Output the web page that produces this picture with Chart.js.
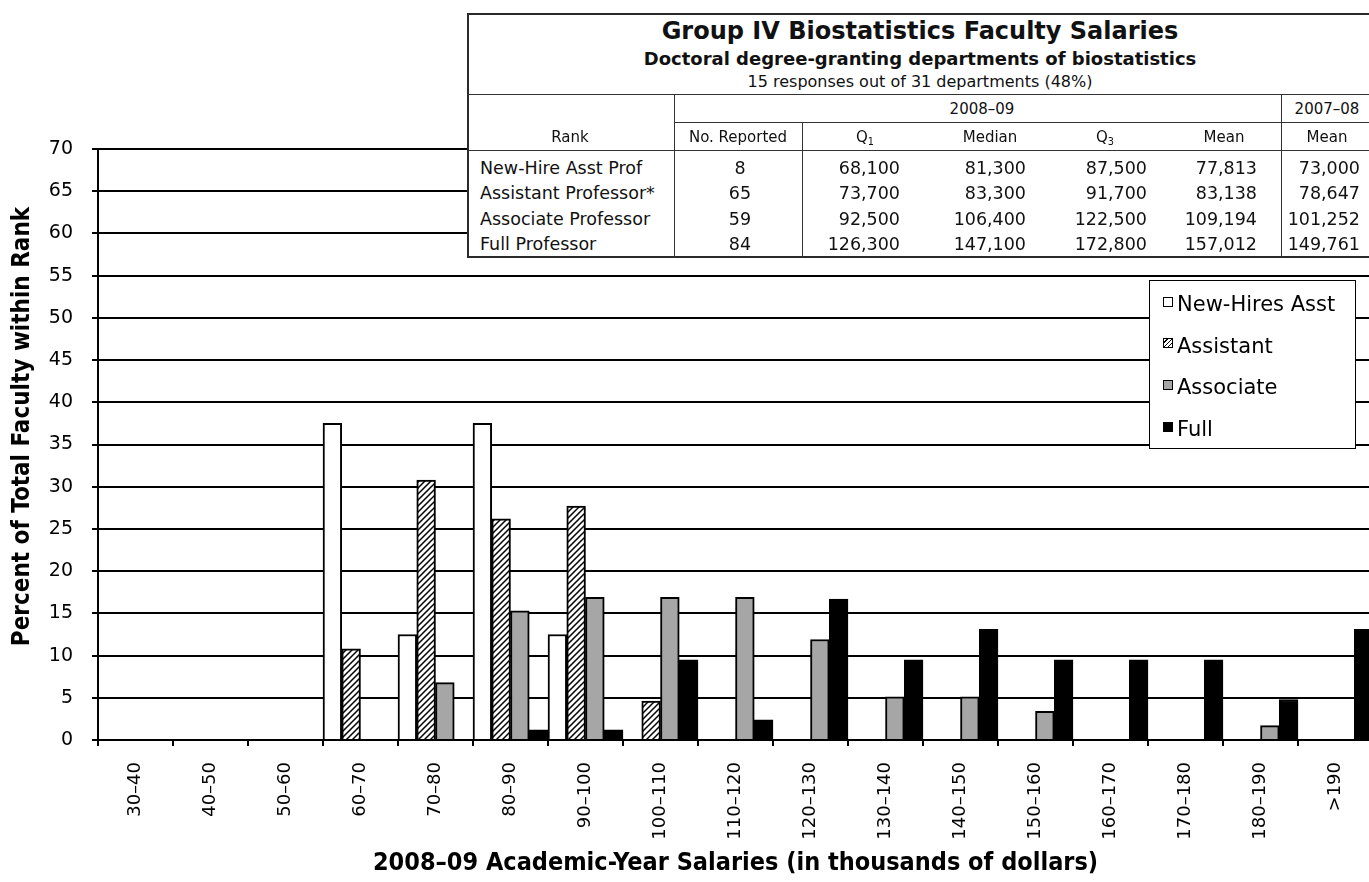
<!DOCTYPE html>
<html>
<head>
<meta charset="utf-8">
<script src="https://cdn.jsdelivr.net/npm/chart.js@4.4.1/dist/chart.umd.min.js"></script>
<style>
html,body{margin:0;padding:0;background:#fff;overflow:hidden;width:1369px;height:882px;}
#wrap{position:relative;width:1380px;height:882px;}
#c{position:absolute;left:0;top:0;}
#tbl{position:absolute;left:0;top:0;width:1380px;height:882px;pointer-events:none;font-family:'DejaVu Sans',sans-serif;color:#111;}
.cell{position:absolute;white-space:nowrap;}
.ln{position:absolute;background:#333;}
#tblbox{position:absolute;left:467px;top:13px;width:906px;height:245px;box-sizing:border-box;border:2px solid #2a2a2a;background:#fff;}
#legend{position:absolute;left:1149px;top:280px;width:207px;height:169px;box-sizing:border-box;border:1.5px solid #000;background:#fff;font-family:'DejaVu Sans',sans-serif;font-size:21px;color:#000;}
.li{position:absolute;left:27px;line-height:21px;height:21px;white-space:nowrap;}
.mk{position:absolute;left:13px;width:10px;height:10px;box-sizing:border-box;border:1.5px solid #000;}
sub{font-size:65%;vertical-align:-3px;line-height:0;}
</style>
</head>
<body>
<div id="wrap">
  <canvas id="c" width="1380" height="882"></canvas>
  <div id="tbl"><div id="tblbox"></div></div>
  <div id="legend"></div>
</div>
<script>
// ---------- Chart data ----------
const salaryBins = ["30–40","40–50","50–60","60–70","70–80","80–90","90–100","100–110","110–120","120–130","130–140","140–150","150–160","160–170","170–180","180–190",">190"];
const newHireAsst = [0,0,0,37.5,12.5,37.5,12.5,0,0,0,0,0,0,0,0,0,0];
const assistant   = [0,0,0,10.8,30.8,26.2,27.7,4.6,0,0,0,0,0,0,0,0,0];
const associate   = [0,0,0,0,6.8,15.3,16.9,16.9,16.9,11.9,5.1,5.1,3.4,0,0,1.7,0];
const full        = [0,0,0,0,0,1.2,1.2,9.5,2.4,16.7,9.5,13.1,9.5,9.5,9.5,4.8,13.1];
const seriesNames = ["New-Hires Asst","Assistant","Associate","Full"];
const yTicksMin = 0, yTicksMax = 70, yTickStep = 5;
const yTitle = "Percent of Total Faculty within Rank";
const xTitle = "2008–09 Academic-Year Salaries (in thousands of dollars)";

// ---------- Table data ----------
const tableTitle = "Group IV Biostatistics Faculty Salaries";
const tableSubtitle = "Doctoral degree-granting departments of biostatistics";
const tableNote = "15 responses out of 31 departments (48%)";
const ranks = ["New-Hire Asst Prof","Assistant Professor*","Associate Professor","Full Professor"];
const numReported = [8,65,59,84];
const q1Values = [68100,73700,92500,126300];
const medianValues = [81300,83300,106400,147100];
const q3Values = [87500,91700,122500,172800];
const meanValues = [77813,83138,109194,157012];
const prevMeanValues = [73000,78647,101252,149761];

// ---------- Hatch pattern ----------
const canvas = document.getElementById('c');
const ctx = canvas.getContext('2d');
function makeHatch(){
  const t = document.createElement('canvas'); t.width = 6; t.height = 6;
  const g = t.getContext('2d');
  g.fillStyle = '#fff'; g.fillRect(0,0,6,6);
  g.strokeStyle = '#000'; g.lineWidth = 1.5;
  g.beginPath();
  g.moveTo(-1,7); g.lineTo(7,-1);
  g.moveTo(-1,1); g.lineTo(1,-1);
  g.moveTo(5,7); g.lineTo(7,5);
  g.stroke();
  return ctx.createPattern(t,'repeat');
}
const hatch = makeHatch();
const fills = ['#ffffff', hatch, '#a6a6a6', '#000000'];
const seriesData = [newHireAsst, assistant, associate, full];

Chart.defaults.font.family = "'DejaVu Sans', sans-serif";
Chart.defaults.color = '#000';
const titleFamily = "'DejaVu Sans Condensed','Liberation Sans Narrow','DejaVu Sans',sans-serif";

// y-axis title, drawn slightly above the axis centre as in the reference
const yTitlePlugin = {
  id: 'yTitlePlugin',
  afterDraw(chart){
    const a = chart.chartArea, c = chart.ctx;
    c.save();
    c.translate(22.5, (a.top + a.bottom)/2 - 18);
    c.rotate(-Math.PI/2);
    c.font = "bold 24px " + titleFamily;
    c.fillStyle = '#000';
    c.textAlign = 'center';
    c.textBaseline = 'middle';
    c.fillText(yTitle, 0, 0);
    c.restore();
  }
};

new Chart(ctx, {
  type: 'bar',
  data: {
    labels: salaryBins,
    datasets: seriesNames.map((n,i)=>({
      label: n, data: seriesData[i], backgroundColor: fills[i],
      borderColor: '#000', borderWidth: 2, borderSkipped: 'start',
      categoryPercentage: 1, barPercentage: 1
    }))
  },
  plugins: [yTitlePlugin],
  options: {
    responsive: false, animation: false, devicePixelRatio: 1,
    layout: { padding: { top: 149, right: 7, left: 0, bottom: 0 } },
    plugins: { legend: { display: false }, tooltip: { enabled: false }, title: { display: false } },
    scales: {
      x: {
        grid: { display: true, drawOnChartArea: false, drawTicks: true, tickLength: 6, offset: true, color: '#000', lineWidth: 2 },
        border: { display: true, color: '#000', width: 2 },
        ticks: { autoSkip: false, maxRotation: 90, minRotation: 90, padding: 16, color: '#000', font: { size: 18 } },
        title: { display: true, text: xTitle, color: '#000', font: { size: 25, weight: 'bold', family: titleFamily }, padding: { top: 0, bottom: 4 } },
        afterFit: s => { s.height = 142; }
      },
      y: {
        min: yTicksMin, max: yTicksMax,
        ticks: { stepSize: yTickStep, padding: 19, color: '#000', font: { size: 19 } },
        grid: { color: '#000', lineWidth: 2, tickLength: 6, drawTicks: true },
        border: { display: true, color: '#000', width: 2 },
        title: { display: false },
        afterFit: s => { s.width = 98; }
      }
    }
  }
});

// ---------- Table (HTML) ----------
const tbl = document.getElementById('tbl');
function cell(html, x, yc, align, size, weight){
  const d = document.createElement('div');
  d.className = 'cell';
  const lh = Math.round(size*1.3);
  d.style.fontSize = size + 'px';
  d.style.lineHeight = lh + 'px';
  d.style.top = (yc - lh/2) + 'px';
  d.style.fontWeight = weight || 'normal';
  if (align === 'center'){ d.style.left = (x-300)+'px'; d.style.width='600px'; d.style.textAlign='center'; }
  else if (align === 'right'){ d.style.left = (x-300)+'px'; d.style.width='300px'; d.style.textAlign='right'; }
  else { d.style.left = x+'px'; }
  d.innerHTML = html;
  tbl.appendChild(d);
}
function line(x,y,w,h){
  const d = document.createElement('div'); d.className='ln';
  d.style.left=x+'px'; d.style.top=y+'px'; d.style.width=w+'px'; d.style.height=h+'px';
  tbl.appendChild(d);
}
line(467,93.5,906,1.3);
line(674,121.5,699,1.3);
line(467,149.5,906,1.6);
line(673.5,94,1.3,164);
line(801.5,122,1.3,136);
line(1280.5,94,1.3,164);

cell(tableTitle, 920, 31.5, 'center', 24, 'bold');
cell(tableSubtitle, 920, 58, 'center', 18, 'bold');
cell(tableNote, 920, 81, 'center', 16);
cell('Rank', 570, 137, 'center', 15);
cell('2008–09', 982, 109, 'center', 15);
cell('2007–08', 1327, 109, 'center', 15);
cell('No. Reported', 738, 137, 'center', 15);
cell('Q<sub>1</sub>', 865, 137, 'center', 15);
cell('Median', 990, 137, 'center', 15);
cell('Q<sub>3</sub>', 1105, 137, 'center', 15);
cell('Mean', 1224, 137, 'center', 15);
cell('Mean', 1327, 137, 'center', 15);
const rowY = [168, 193.5, 219, 244.5];
const fmt = v => v.toLocaleString('en-US');
ranks.forEach((r,i)=>{
  const y = rowY[i];
  cell(r, 480, y, 'left', 17.5);
  cell(String(numReported[i]), 740, y, 'center', 17.5);
  cell(fmt(q1Values[i]), 900, y, 'right', 17.5);
  cell(fmt(medianValues[i]), 1026, y, 'right', 17.5);
  cell(fmt(q3Values[i]), 1147, y, 'right', 17.5);
  cell(fmt(meanValues[i]), 1257, y, 'right', 17.5);
  cell(fmt(prevMeanValues[i]), 1360, y, 'right', 17.5);
});

// ---------- Legend (HTML) ----------
const legend = document.getElementById('legend');
const markerBg = ['#fff', 'repeating-linear-gradient(135deg,#fff 0 2px,#000 2px 3px)', '#a6a6a6', '#000'];
seriesNames.forEach((n,i)=>{
  const top = 13 + i*41.7;
  const m = document.createElement('div'); m.className='mk';
  m.style.top = (top+2.5)+'px'; m.style.background = markerBg[i];
  legend.appendChild(m);
  const t = document.createElement('div'); t.className='li';
  t.style.top = top+'px'; t.textContent = n;
  legend.appendChild(t);
});
</script>
</body>
</html>
